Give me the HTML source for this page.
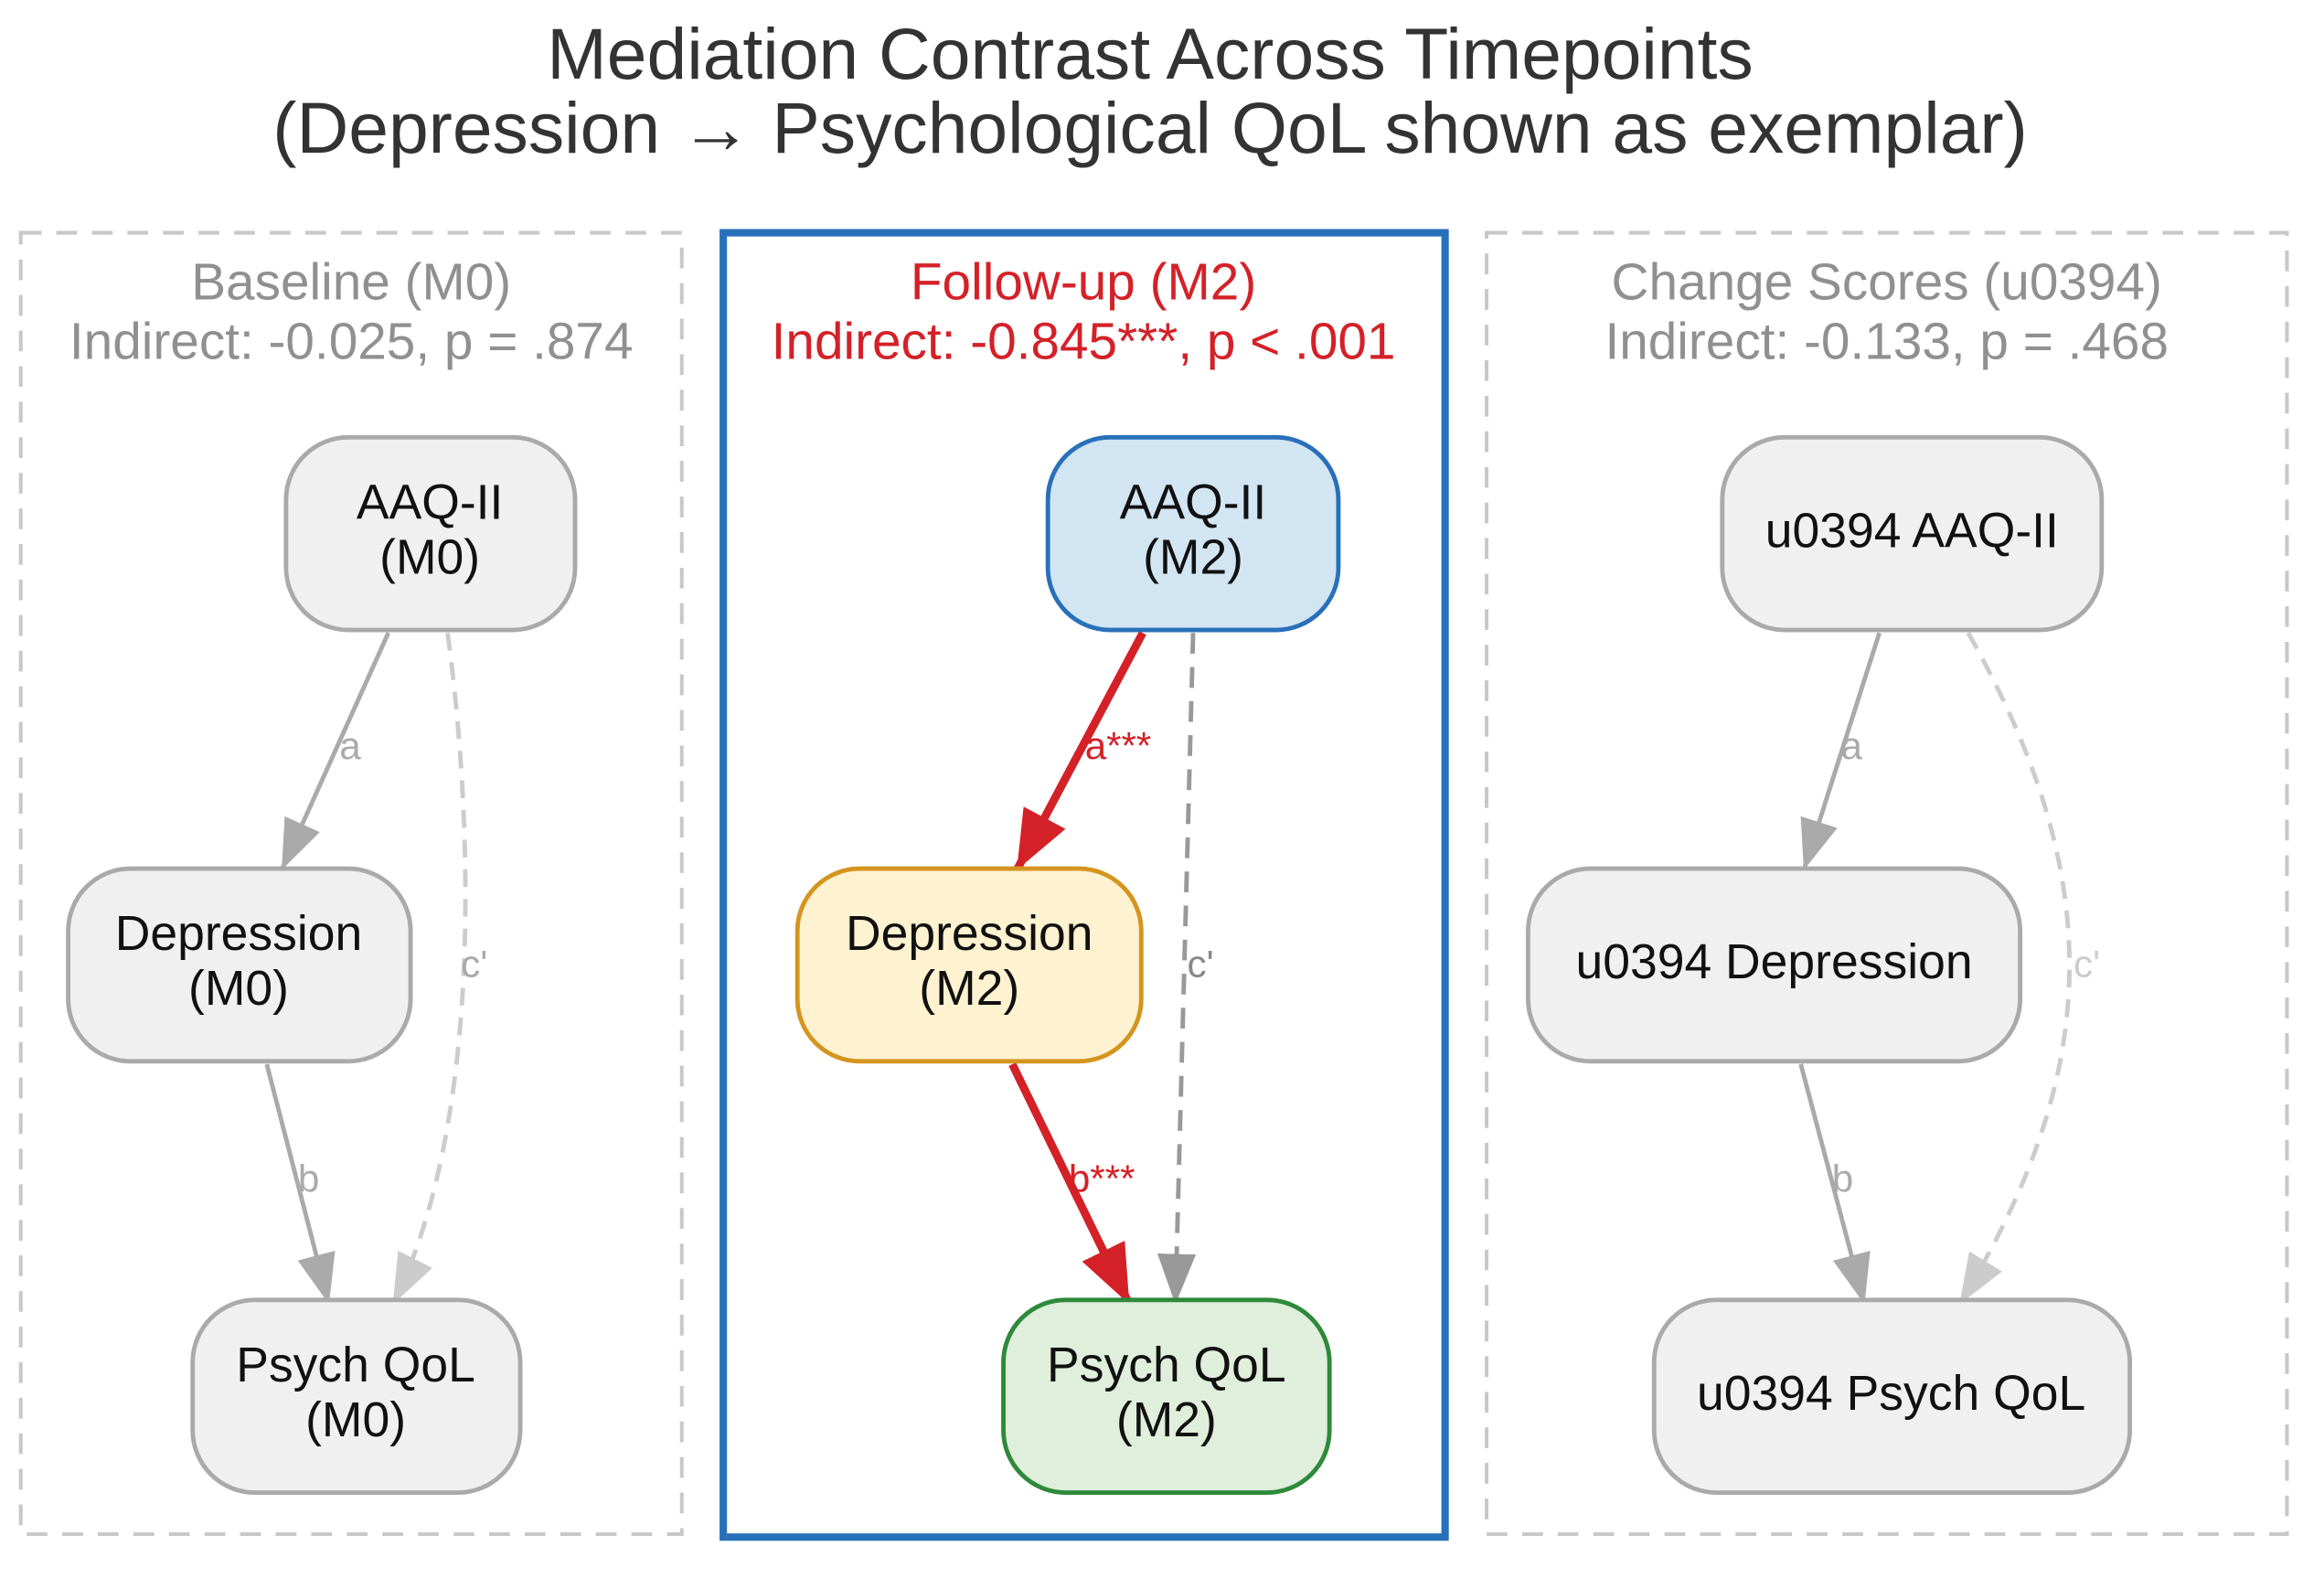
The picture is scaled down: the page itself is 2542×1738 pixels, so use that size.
<!DOCTYPE html>
<html><head><meta charset="utf-8"><style>
html,body{margin:0;padding:0;background:#fff;}
svg{display:block;}
text{font-family:"Liberation Sans",sans-serif;}
</style></head><body>
<svg width="2542" height="1738" viewBox="0 0 1568 1072" xmlns="http://www.w3.org/2000/svg">
<defs>
<marker id="ag" markerWidth="34" markerHeight="26" refX="10" refY="5" orient="auto" markerUnits="userSpaceOnUse" viewBox="0 0 10 10" preserveAspectRatio="none"><path d="M0,0 L10,5 L0,10 Z" fill="#aaa"/></marker>
<marker id="agl" markerWidth="34" markerHeight="26" refX="10" refY="5" orient="auto" markerUnits="userSpaceOnUse" viewBox="0 0 10 10" preserveAspectRatio="none"><path d="M0,0 L10,5 L0,10 Z" fill="#ccc"/></marker>
<marker id="agd" markerWidth="34" markerHeight="26" refX="10" refY="5" orient="auto" markerUnits="userSpaceOnUse" viewBox="0 0 10 10" preserveAspectRatio="none"><path d="M0,0 L10,5 L0,10 Z" fill="#999"/></marker>
<marker id="ar" markerWidth="40" markerHeight="32" refX="10" refY="5" orient="auto" markerUnits="userSpaceOnUse" viewBox="0 0 10 10" preserveAspectRatio="none"><path d="M0,0 L10,5 L0,10 Z" fill="#d42128"/></marker>
</defs>
<rect width="1568" height="1072" fill="#fff"/>
<g fill="#333" font-size="48.5" text-anchor="middle">
<text x="776" y="53">Mediation Contrast Across Timepoints</text>
<text x="776" y="103">(Depression → Psychological QoL shown as exemplar)</text>
</g>
<rect x="14" y="157" width="446" height="878" fill="none" stroke="#c8c8c8" stroke-width="2.5" stroke-dasharray="14,10"/>
<rect x="488" y="157" width="487" height="880" fill="none" stroke="#2970ba" stroke-width="5"/>
<rect x="1003" y="157" width="540" height="878" fill="none" stroke="#c8c8c8" stroke-width="2.5" stroke-dasharray="14,10"/>
<g font-size="35" text-anchor="middle">
<text x="237" y="202" fill="#909090">Baseline (M0)</text>
<text x="237" y="242" fill="#909090">Indirect: -0.025, p = .874</text>
<text x="731" y="202" fill="#d42128">Follow-up (M2)</text>
<text x="731" y="242" fill="#d42128">Indirect: -0.845***, p &lt; .001</text>
<text x="1273" y="202" fill="#909090">Change Scores (u0394)</text>
<text x="1273" y="242" fill="#909090">Indirect: -0.133, p = .468</text>
</g>
<g fill="none" stroke-width="3">
<line x1="262" y1="427" x2="190" y2="587" stroke="#aaa" marker-end="url(#ag)"/>
<path d="M302,427 C320,560 325,760 265,880" stroke="#ccc" stroke-dasharray="12,8" marker-end="url(#agl)"/>
<line x1="180" y1="718" x2="222" y2="880" stroke="#aaa" marker-end="url(#ag)"/>
<line x1="771" y1="427" x2="686" y2="587" stroke="#d42128" stroke-width="5.5" marker-end="url(#ar)"/>
<line x1="805" y1="427" x2="793" y2="880" stroke="#999" stroke-width="3" stroke-dasharray="14,9" marker-end="url(#agd)"/>
<line x1="683" y1="718" x2="762" y2="880" stroke="#d42128" stroke-width="5.5" marker-end="url(#ar)"/>
<line x1="1268" y1="427" x2="1217" y2="587" stroke="#aaa" marker-end="url(#ag)"/>
<path d="M1328,427 C1420,590 1420,720 1322,880" stroke="#ccc" stroke-dasharray="12,8" marker-end="url(#agl)"/>
<line x1="1215" y1="718" x2="1258" y2="880" stroke="#aaa" marker-end="url(#ag)"/>
</g>
<g font-size="26">
<text x="229" y="512" fill="#aaa">a</text>
<text x="311" y="659" fill="#aaa">c'</text>
<text x="201" y="804" fill="#aaa">b</text>
<text x="732" y="512" fill="#d42128">a***</text>
<text x="801" y="659" fill="#888">c'</text>
<text x="721" y="804" fill="#d42128">b***</text>
<text x="1242" y="512" fill="#aaa">a</text>
<text x="1399" y="659" fill="#ccc">c'</text>
<text x="1236" y="804" fill="#aaa">b</text>
</g>
<g stroke-width="3">
<rect x="193" y="295" width="195" height="130" rx="42" fill="#f0f0f0" stroke="#aaa"/>
<rect x="46" y="586" width="231" height="130" rx="42" fill="#f0f0f0" stroke="#aaa"/>
<rect x="130" y="877" width="221" height="130" rx="42" fill="#f0f0f0" stroke="#aaa"/>
<rect x="707" y="295" width="196" height="130" rx="42" fill="#d2e5f2" stroke="#2970ba"/>
<rect x="538" y="586" width="232" height="130" rx="42" fill="#fff2d0" stroke="#d4951f"/>
<rect x="677" y="877" width="220" height="130" rx="42" fill="#e0eedc" stroke="#2e8a3a"/>
<rect x="1162" y="295" width="256" height="130" rx="42" fill="#f0f0f0" stroke="#aaa"/>
<rect x="1031" y="586" width="332" height="130" rx="42" fill="#f0f0f0" stroke="#aaa"/>
<rect x="1116" y="877" width="321" height="130" rx="42" fill="#f0f0f0" stroke="#aaa"/>
</g>
<g font-size="33" fill="#111" text-anchor="middle">
<text x="290" y="350">AAQ-II</text><text x="290" y="387">(M0)</text>
<text x="161" y="641">Depression</text><text x="161" y="678">(M0)</text>
<text x="240" y="932">Psych QoL</text><text x="240" y="969">(M0)</text>
<text x="805" y="350">AAQ-II</text><text x="805" y="387">(M2)</text>
<text x="654" y="641">Depression</text><text x="654" y="678">(M2)</text>
<text x="787" y="932">Psych QoL</text><text x="787" y="969">(M2)</text>
<text x="1290" y="369">u0394 AAQ-II</text>
<text x="1197" y="660">u0394 Depression</text>
<text x="1276" y="951">u0394 Psych QoL</text>
</g>
</svg>
</body></html>
